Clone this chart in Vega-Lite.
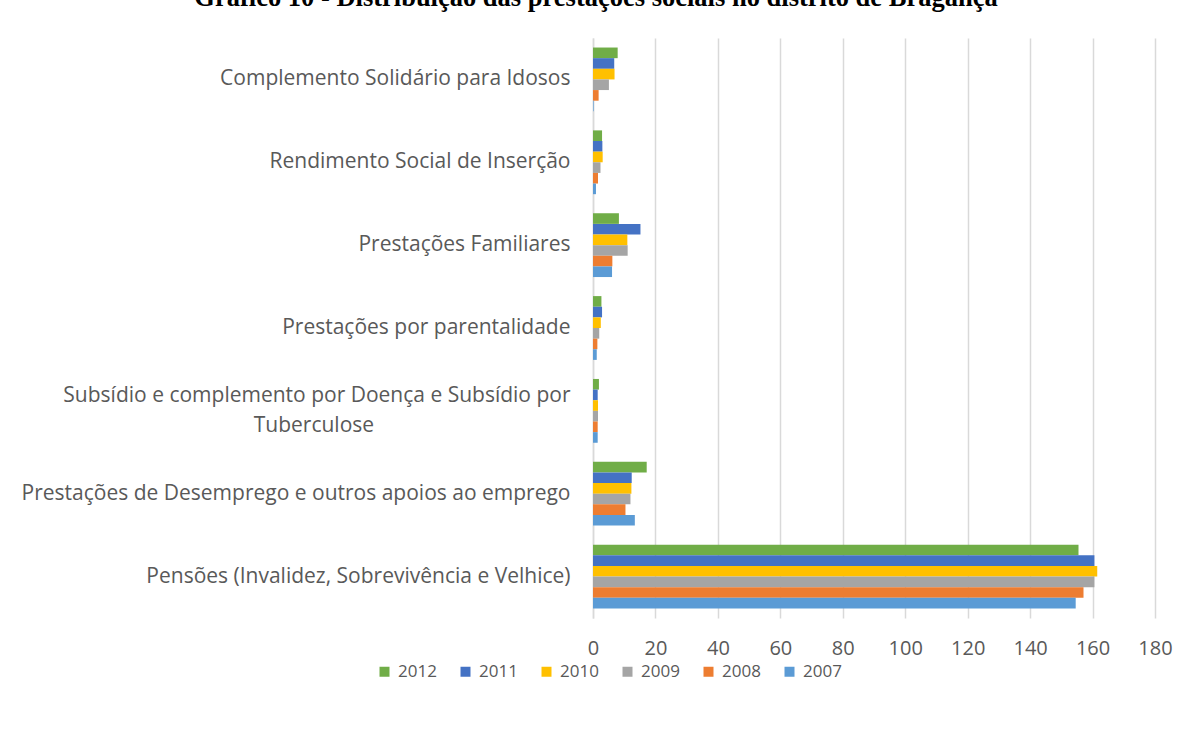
{
  "$schema": "https://vega.github.io/schema/vega-lite/v6.json",
  "width": 562,
  "height": 580,
  "autosize": {"type": "none"},
  "padding": {"left": 593, "top": 38, "right": 37, "bottom": 113},
  "background": "white",
  "title": {
    "text": "Gráfico 10 - Distribuição das prestações sociais no distrito de Bragança",
    "font": "Liberation Serif",
    "fontSize": 26.5,
    "fontWeight": "bold",
    "color": "black",
    "anchor": "middle",
    "offset": 27,
    "dx": -278
  },
  "data": {
    "values": [
      {"categoria": "Complemento Solidário para Idosos", "ano": "2012", "valor": 7.9},
      {"categoria": "Complemento Solidário para Idosos", "ano": "2011", "valor": 6.8},
      {"categoria": "Complemento Solidário para Idosos", "ano": "2010", "valor": 6.9},
      {"categoria": "Complemento Solidário para Idosos", "ano": "2009", "valor": 5.1},
      {"categoria": "Complemento Solidário para Idosos", "ano": "2008", "valor": 1.8},
      {"categoria": "Complemento Solidário para Idosos", "ano": "2007", "valor": 0.2},
      {"categoria": "Rendimento Social de Inserção", "ano": "2012", "valor": 2.9},
      {"categoria": "Rendimento Social de Inserção", "ano": "2011", "valor": 3.0},
      {"categoria": "Rendimento Social de Inserção", "ano": "2010", "valor": 3.1},
      {"categoria": "Rendimento Social de Inserção", "ano": "2009", "valor": 2.4},
      {"categoria": "Rendimento Social de Inserção", "ano": "2008", "valor": 1.6},
      {"categoria": "Rendimento Social de Inserção", "ano": "2007", "valor": 0.95},
      {"categoria": "Prestações Familiares", "ano": "2012", "valor": 8.3},
      {"categoria": "Prestações Familiares", "ano": "2011", "valor": 15.2},
      {"categoria": "Prestações Familiares", "ano": "2010", "valor": 11.0},
      {"categoria": "Prestações Familiares", "ano": "2009", "valor": 11.1},
      {"categoria": "Prestações Familiares", "ano": "2008", "valor": 6.2},
      {"categoria": "Prestações Familiares", "ano": "2007", "valor": 6.1},
      {"categoria": "Prestações por parentalidade", "ano": "2012", "valor": 2.7},
      {"categoria": "Prestações por parentalidade", "ano": "2011", "valor": 2.9},
      {"categoria": "Prestações por parentalidade", "ano": "2010", "valor": 2.5},
      {"categoria": "Prestações por parentalidade", "ano": "2009", "valor": 2.0},
      {"categoria": "Prestações por parentalidade", "ano": "2008", "valor": 1.4},
      {"categoria": "Prestações por parentalidade", "ano": "2007", "valor": 1.2},
      {"categoria": "Subsídio e complemento por Doença e Subsídio por Tuberculose", "ano": "2012", "valor": 1.9},
      {"categoria": "Subsídio e complemento por Doença e Subsídio por Tuberculose", "ano": "2011", "valor": 1.5},
      {"categoria": "Subsídio e complemento por Doença e Subsídio por Tuberculose", "ano": "2010", "valor": 1.6},
      {"categoria": "Subsídio e complemento por Doença e Subsídio por Tuberculose", "ano": "2009", "valor": 1.6},
      {"categoria": "Subsídio e complemento por Doença e Subsídio por Tuberculose", "ano": "2008", "valor": 1.5},
      {"categoria": "Subsídio e complemento por Doença e Subsídio por Tuberculose", "ano": "2007", "valor": 1.5},
      {"categoria": "Prestações de Desemprego e outros apoios ao emprego", "ano": "2012", "valor": 17.2},
      {"categoria": "Prestações de Desemprego e outros apoios ao emprego", "ano": "2011", "valor": 12.4},
      {"categoria": "Prestações de Desemprego e outros apoios ao emprego", "ano": "2010", "valor": 12.3},
      {"categoria": "Prestações de Desemprego e outros apoios ao emprego", "ano": "2009", "valor": 12.0},
      {"categoria": "Prestações de Desemprego e outros apoios ao emprego", "ano": "2008", "valor": 10.4},
      {"categoria": "Prestações de Desemprego e outros apoios ao emprego", "ano": "2007", "valor": 13.4},
      {"categoria": "Pensões (Invalidez, Sobrevivência e Velhice)", "ano": "2012", "valor": 155.5},
      {"categoria": "Pensões (Invalidez, Sobrevivência e Velhice)", "ano": "2011", "valor": 160.6},
      {"categoria": "Pensões (Invalidez, Sobrevivência e Velhice)", "ano": "2010", "valor": 161.5},
      {"categoria": "Pensões (Invalidez, Sobrevivência e Velhice)", "ano": "2009", "valor": 160.6},
      {"categoria": "Pensões (Invalidez, Sobrevivência e Velhice)", "ano": "2008", "valor": 157.1},
      {"categoria": "Pensões (Invalidez, Sobrevivência e Velhice)", "ano": "2007", "valor": 154.6}
    ]
  },
  "mark": {"type": "bar"},
  "encoding": {
    "y": {
      "field": "categoria",
      "type": "nominal",
      "sort": [
        "Complemento Solidário para Idosos",
        "Rendimento Social de Inserção",
        "Prestações Familiares",
        "Prestações por parentalidade",
        "Subsídio e complemento por Doença e Subsídio por Tuberculose",
        "Prestações de Desemprego e outros apoios ao emprego",
        "Pensões (Invalidez, Sobrevivência e Velhice)"
      ],
      "scale": {"paddingInner": 0.23, "paddingOuter": 0.115},
      "axis": {
        "title": null,
        "ticks": false,
        "domain": true,
        "domainColor": "#d9d9d9",
        "domainWidth": 1.5,
        "labelPadding": 23,
        "labelFont": "Open Sans",
        "labelFontSize": 21,
        "labelColor": "#595959",
        "labelLimit": 0,
        "labelLineHeight": 30,
        "labelOffset": {"condition": {"test": "datum.value == 'Subsídio e complemento por Doença e Subsídio por Tuberculose'", "value": -15}, "value": 0},
        "labelExpr": "datum.label == 'Subsídio e complemento por Doença e Subsídio por Tuberculose' ? ['Subsídio e complemento por Doença e Subsídio por', 'Tuberculose\u00a0\u00a0\u00a0\u00a0\u00a0\u00a0\u00a0\u00a0\u00a0\u00a0\u00a0\u00a0\u00a0\u00a0\u00a0\u00a0\u00a0\u00a0\u00a0\u00a0\u00a0\u00a0\u00a0\u00a0\u00a0\u00a0\u00a0\u00a0\u00a0\u00a0\u00a0\u00a0\u00a0\u00a0\u00a0\u00a0\u2060'] : datum.label"
      }
    },
    "yOffset": {
      "field": "ano",
      "type": "nominal",
      "sort": ["2012", "2011", "2010", "2009", "2008", "2007"],
      "scale": {"paddingInner": 0, "paddingOuter": 0}
    },
    "x": {
      "field": "valor",
      "type": "quantitative",
      "scale": {"domain": [0, 180], "nice": false},
      "axis": {
        "title": null,
        "values": [0, 20, 40, 60, 80, 100, 120, 140, 160, 180],
        "domain": false,
        "ticks": false,
        "grid": true,
        "gridColor": "#d9d9d9",
        "gridWidth": 1.5,
        "labelFlush": false,
        "labelOverlap": false,
        "labelPadding": 20,
        "labelFont": "Open Sans",
        "labelFontSize": 20,
        "labelColor": "#595959"
      }
    },
    "color": {
      "field": "ano",
      "type": "nominal",
      "sort": ["2012", "2011", "2010", "2009", "2008", "2007"],
      "scale": {
        "domain": ["2012", "2011", "2010", "2009", "2008", "2007"],
        "range": ["#70AD47", "#4472C4", "#FFC000", "#A5A5A5", "#ED7D31", "#5B9BD5"]
      },
      "legend": {
        "title": null,
        "orient": "none",
        "legendX": -217,
        "legendY": 625,
        "direction": "horizontal",
        "symbolType": "square",
        "symbolSize": 100,
        "symbolStrokeWidth": 0,
        "labelFont": "Open Sans",
        "labelFontSize": 17,
        "labelColor": "#595959",
        "labelOffset": 5,
        "columnPadding": 20
      }
    }
  },
  "config": {
    "view": {"stroke": null}
  }
}
